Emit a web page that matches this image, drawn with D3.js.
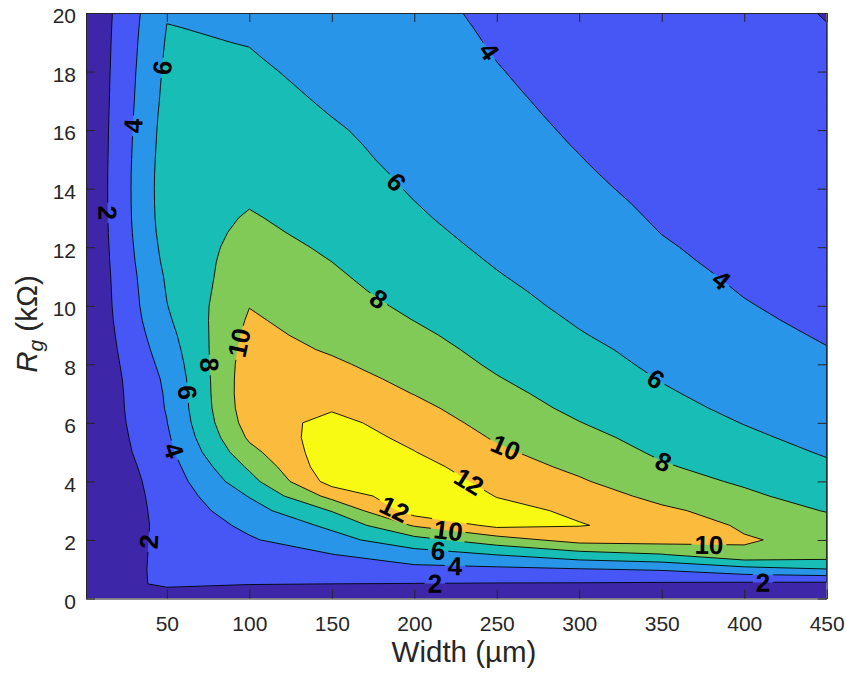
<!DOCTYPE html>
<html>
<head>
<meta charset="utf-8">
<script src="https://cdn.jsdelivr.net/npm/d3@7"></script>
<style>
  body { margin: 0; background: #fff; }
  text { font-family: "Liberation Sans", Arial, Helvetica, sans-serif; }
</style>
</head>
<body>
<svg id="chart" width="846" height="673"></svg>
<script>
// Sample grid: device width (µm) columns and gate resistance Rg (kΩ) rows
const widths = [0, 50, 100, 150, 200, 250, 300, 350, 400, 450];
const rgGrid = [0, 0.5, 1, 1.5, 2, 2.5, 3, 3.5, 4, 4.5, 5, 5.5, 6, 6.5, 7, 7.5, 8, 8.5, 9, 9.5, 10,
                10.5, 11, 11.5, 12, 12.5, 13, 13.5, 14, 14.5, 15, 15.5, 16, 16.5, 17, 17.5, 18, 18.5, 19, 19.5, 20];

// Gain along Rg for each width column (one value per rgGrid entry)
const gain_w0   = [0, 0, 0, 0, 0, 0, 0, 0, 0, 0, 0, 0, 0, 0, 0, 0, 0, 0, 0, 0, 0,
                   0, 0, 0, 0, 0, 0, 0, 0, 0, 0, 0, 0, 0, 0, 0, 0, 0, 0, 0, 0];
const gain_w50  = [0, 2.6, 2.64, 2.6, 2.56, 2.53, 2.6, 2.7, 2.85, 3.1, 3.45, 3.7, 3.95, 4.12, 4.2, 4.35, 4.65, 5.0, 5.35, 5.7, 5.95,
                   6.1, 6.25, 6.5, 6.7, 6.88, 7.0, 7.05, 7.07, 7.05, 6.98, 6.9, 6.82, 6.72, 6.6, 6.5, 6.4, 6.28, 6.17, 6.04, 5.89];
const gain_w100 = [0, 2.1, 2.8, 3.3, 3.8, 4.4, 5.2, 6.1, 7.3, 8.3, 9.4, 10.3, 10.9, 11.2, 11.3, 11.25, 11.1, 10.85, 10.55, 10.25, 9.95,
                   9.6, 9.3, 9.0, 8.7, 8.4, 8.15, 7.9, 7.7, 7.5, 7.3, 7.1, 6.95, 6.8, 6.65, 6.45, 6.28, 6.1, 5.95, 5.82, 5.7];
const gain_w150 = [0, 2.0, 3.1, 3.95, 5.3, 6.4, 8.1, 10.6, 12.78, 13.3, 13.25, 13.0, 12.6, 11.8, 11.3, 10.8, 10.3, 9.8, 9.4, 9.1, 8.8,
                   8.5, 8.25, 8.0, 7.75, 7.5, 7.3, 7.1, 6.9, 6.7, 6.5, 6.35, 6.18, 5.98, 5.8, 5.65, 5.5, 5.38, 5.25, 5.12, 5.0];
const gain_w200 = [0, 1.95, 3.5, 5.1, 7.3, 10.2, 13.0, 13.4, 13.2, 12.7, 12.05, 11.55, 11.0, 10.5, 9.95, 9.5, 9.05, 8.7, 8.35, 7.98, 7.65,
                   7.35, 7.1, 6.85, 6.6, 6.4, 6.2, 6.03, 5.85, 5.7, 5.55, 5.42, 5.3, 5.17, 5.05, 4.92, 4.8, 4.7, 4.6, 4.5, 4.4];
const gain_w250 = [0, 1.9, 3.6, 6.05, 9.1, 12.5, 12.45, 11.95, 11.4, 10.85, 10.3, 9.8, 9.35, 8.9, 8.5, 8.1, 7.75, 7.45, 7.15, 6.85, 6.6,
                   6.35, 6.1, 5.88, 5.68, 5.48, 5.3, 5.13, 4.97, 4.82, 4.68, 4.55, 4.45, 4.35, 4.25, 4.15, 4.06, 3.97, 3.88, 3.8, 3.72];
const gain_w300 = [0, 1.85, 3.9, 7.2, 10.75, 12.08, 11.75, 11.1, 10.2, 9.6, 9.1, 8.6, 8.05, 7.6, 7.25, 6.95, 6.65, 6.4, 6.1, 5.85, 5.6,
                   5.4, 5.2, 5.02, 4.88, 4.74, 4.6, 4.47, 4.3, 4.16, 4.04, 3.93, 3.83, 3.73, 3.64, 3.56, 3.48, 3.41, 3.34, 3.27, 3.2];
const gain_w350 = [0, 1.75, 4.2, 7.9, 10.8, 11.45, 10.4, 9.4, 8.75, 8.2, 7.7, 7.25, 6.85, 6.5, 6.2, 5.93, 5.68, 5.45, 5.22, 5.0, 4.8,
                   4.6, 4.42, 4.25, 4.12, 3.98, 3.85, 3.72, 3.6, 3.49, 3.38, 3.28, 3.18, 3.09, 3.0, 2.92, 2.84, 2.76, 2.69, 2.62, 2.55];
const gain_w400 = [0, 1.6, 5.3, 9.59, 10.21, 9.69, 9.1, 8.35, 7.75, 7.2, 6.7, 6.3, 5.95, 5.62, 5.35, 5.1, 4.84, 4.62, 4.42, 4.24, 4.08,
                   3.93, 3.8, 3.68, 3.56, 3.45, 3.34, 3.24, 3.14, 3.05, 2.96, 2.88, 2.8, 2.73, 2.66, 2.6, 2.54, 2.49, 2.44, 2.4, 2.37];
const gain_w450 = [0, 1.5, 5.95, 9.0, 9.3, 8.8, 7.9, 7.2, 6.6, 6.25, 5.85, 5.5, 5.2, 4.93, 4.68, 4.46, 4.25, 4.05, 3.87, 3.7, 3.55,
                   3.4, 3.27, 3.14, 3.02, 2.91, 2.8, 2.7, 2.61, 2.52, 2.44, 2.37, 2.3, 2.24, 2.19, 2.15, 2.11, 2.08, 2.06, 2.03, 1.95];

// Contour levels and band colours (band below the first level first)
const levels = [2, 4, 6, 8, 10, 12];
const bandColors = ["#3E26A8", "#4757F5", "#2995E8", "#18BEB5", "#81CA58", "#FBBB3D", "#F8FA14"];

// Axis ticks
const xTicks = [50, 100, 150, 200, 250, 300, 350, 400, 450];
const yTicks = [0, 2, 4, 6, 8, 10, 12, 14, 16, 18, 20];

// Inline contour labels: level and approximate (width, Rg) where the label sits
const labelLevels = [2, 4, 6, 4, 6, 8, 10, 8, 6, 4, 2, 4, 6, 8, 10, 12, 12, 10, 6, 4, 2, 10, 2];
const labelW      = [13.7, 30.1, 48.9, 244.7, 188.3, 178, 94.4, 76.2, 59.8, 55, 41.6, 384.7, 345.3, 350.8, 255.6, 233.8, 187.1, 220.4, 214.4, 224.7, 212.5, 378.6, 411.4];
const labelRg     = [13.17, 16.14, 18.12, 18.67, 14.19, 10.2, 8.73, 7.98, 7.02, 5.07, 1.93, 10.78, 7.4, 4.63, 5.18, 4.05, 2.97, 2.24, 1.59, 1.08, 0.53, 1.73, 0.53];

// ---------------------------------------------------------------
const svg = d3.select("#chart");
const X0 = 86, X1 = 826.7, Y0 = 13, Y1 = 598.5;
const x = d3.scaleLinear().domain([1, 450]).range([X0, X1]);
const y = d3.scaleLinear().domain([0, 20]).range([Y1, Y0]);

// Grid -> contour polygons
const columns = [gain_w0, gain_w50, gain_w100, gain_w150, gain_w200, gain_w250, gain_w300, gain_w350, gain_w400, gain_w450];
const nx = widths.length, ny = rgGrid.length;
const values = new Array(nx * ny);
for (let j = 0; j < ny; j++) for (let i = 0; i < nx; i++) values[j * nx + i] = columns[i][j];
const contours = d3.contours().size([nx, ny]).thresholds(levels)(values);

// contour index space -> data space (samples sit at index + 0.5)
const ix = d3.scaleLinear().domain(d3.range(nx)).range(widths).clamp(true);
const iy = d3.scaleLinear().domain(d3.range(ny)).range(rgGrid).clamp(true);
const toPx = (a, b) => [x(ix(a - 0.5)), y(iy(b - 0.5))];
const path = d3.geoPath(d3.geoTransform({
  point(a, b) { const p = toPx(a, b); this.stream.point(p[0], p[1]); }
}));

const defs = svg.append("defs");
defs.append("clipPath").attr("id", "plotClip")
  .append("rect").attr("x", X0).attr("y", Y0).attr("width", X1 - X0).attr("height", Y1 - Y0);

const plot = svg.append("g").attr("clip-path", "url(#plotClip)");
plot.append("rect").attr("x", X0).attr("y", Y0).attr("width", X1 - X0).attr("height", Y1 - Y0)
  .attr("fill", bandColors[0]);
plot.append("g").selectAll("path").data(contours).join("path")
  .attr("d", path)
  .attr("fill", (d, i) => bandColors[i + 1])
  .attr("stroke", (d, i) => bandColors[i + 1])
  .attr("stroke-width", 0.4);

// Contour lines (gapped under the labels through a mask)
const mask = defs.append("mask").attr("id", "labelGaps").attr("maskUnits", "userSpaceOnUse")
  .attr("x", 0).attr("y", 0).attr("width", 846).attr("height", 673);
mask.append("rect").attr("x", 0).attr("y", 0).attr("width", 846).attr("height", 673).attr("fill", "#fff");

plot.append("g").attr("mask", "url(#labelGaps)")
  .selectAll("path").data(contours).join("path")
  .attr("d", path)
  .attr("fill", "none")
  .attr("stroke", "#000")
  .attr("stroke-width", 0.9)
  .attr("stroke-linejoin", "round");

// ---- label placement on the contour lines
const onBorder = p => p[0] <= X0 + 0.6 || Math.abs(p[0] - X1) < 0.6 || Math.abs(p[1] - Y0) < 0.6 || Math.abs(p[1] - Y1) < 0.6;

function ringsFor(level) {
  const c = contours.find(d => d.value === level);
  const rings = [];
  c.coordinates.forEach(poly => poly.forEach(r => rings.push(r.map(([a, b]) => toPx(a, b)))));
  return rings;
}

function pointAt(ring, cum, s) {
  const total = cum[cum.length - 1];
  s = ((s % total) + total) % total;
  let i = d3.bisectRight(cum, s) - 1;
  i = Math.max(0, Math.min(ring.length - 2, i));
  const seg = cum[i + 1] - cum[i];
  const t = seg ? (s - cum[i]) / seg : 0;
  return [ring[i][0] + t * (ring[i + 1][0] - ring[i][0]), ring[i][1] + t * (ring[i + 1][1] - ring[i][1])];
}

function place(level, target) {
  let best = { d: Infinity };
  ringsFor(level).forEach(ring => {
    const cum = [0];
    for (let i = 1; i < ring.length; i++) cum.push(cum[i - 1] + Math.hypot(ring[i][0] - ring[i - 1][0], ring[i][1] - ring[i - 1][1]));
    for (let i = 0; i < ring.length - 1; i++) {
      const p = ring[i], q = ring[i + 1];
      if (onBorder(p) && onBorder(q)) continue;
      const dx = q[0] - p[0], dy = q[1] - p[1], L2 = dx * dx + dy * dy;
      let t = L2 ? ((target[0] - p[0]) * dx + (target[1] - p[1]) * dy) / L2 : 0;
      t = Math.max(0, Math.min(1, t));
      const pt = [p[0] + t * dx, p[1] + t * dy];
      const d = Math.hypot(pt[0] - target[0], pt[1] - target[1]);
      if (d < best.d) best = { d, pt, ring, cum, s: cum[i] + t * Math.sqrt(L2) };
    }
  });
  const a = pointAt(best.ring, best.cum, best.s - 12);
  const b = pointAt(best.ring, best.cum, best.s + 12);
  let ang = Math.atan2(b[1] - a[1], b[0] - a[0]) * 180 / Math.PI;
  if (ang > 90) ang -= 180;
  if (ang <= -90) ang += 180;
  return { pt: best.pt, ang };
}

const labelFont = 26;
const labelG = svg.append("g");
labelLevels.forEach((lv, k) => {
  const { pt, ang } = place(lv, [x(labelW[k]), y(labelRg[k])]);
  const t = labelG.append("text")
    .attr("transform", `translate(${pt[0]},${pt[1]}) rotate(${ang})`)
    .attr("text-anchor", "middle")
    .attr("dy", "0.36em")
    .attr("font-size", labelFont)
    .attr("font-weight", "bold")
    .attr("fill", "#000")
    .text(lv);
  const w = t.node().getComputedTextLength();
  mask.append("rect")
    .attr("x", -w / 2 - 3).attr("y", -labelFont * 0.42)
    .attr("width", w + 6).attr("height", labelFont * 0.84)
    .attr("transform", `translate(${pt[0]},${pt[1]}) rotate(${ang})`)
    .attr("fill", "#000");
});

// ---- axes with inward ticks on all four sides
const axisColor = "#262626";
function styleAxis(g) {
  g.select(".domain").attr("stroke", axisColor).attr("stroke-width", 1);
  g.selectAll(".tick line").attr("stroke", axisColor).attr("stroke-width", 1);
  g.selectAll(".tick text").attr("fill", axisColor).attr("font-size", 21)
    .attr("font-family", '"Liberation Sans", Arial, sans-serif');
}
svg.append("g").attr("transform", `translate(0,${Y1})`)
  .call(d3.axisBottom(x).tickValues(xTicks).tickSize(-9).tickSizeOuter(0).tickPadding(17.5))
  .call(styleAxis);
svg.append("g").attr("transform", `translate(0,${Y0})`)
  .call(d3.axisTop(x).tickValues(xTicks).tickSize(-9).tickSizeOuter(0).tickFormat(""))
  .call(styleAxis);
svg.append("g").attr("transform", `translate(${X0},0)`)
  .call(d3.axisLeft(y).tickValues(yTicks).tickSize(-9).tickSizeOuter(0).tickPadding(10))
  .call(styleAxis)
  .call(g => g.selectAll(".tick text").attr("dy", "0.47em"));
svg.append("g").attr("transform", `translate(${X1},0)`)
  .call(d3.axisRight(y).tickValues(yTicks).tickSize(-9).tickSizeOuter(0).tickFormat(""))
  .call(styleAxis);

// ---- axis titles
svg.append("text")
  .attr("x", 464).attr("y", 661.5)
  .attr("text-anchor", "middle").attr("font-size", 29.5).attr("fill", axisColor)
  .text("Width (µm)");

const yt = svg.append("text")
  .attr("transform", "translate(37,324) rotate(-90)")
  .attr("text-anchor", "middle").attr("font-size", 29.5).attr("fill", axisColor);
yt.append("tspan").attr("font-style", "italic").text("R");
yt.append("tspan").attr("font-style", "italic").attr("font-size", 21).attr("dy", 6).text("g");
yt.append("tspan").attr("dy", -6).text(" (kΩ)");
</script>
</body>
</html>
